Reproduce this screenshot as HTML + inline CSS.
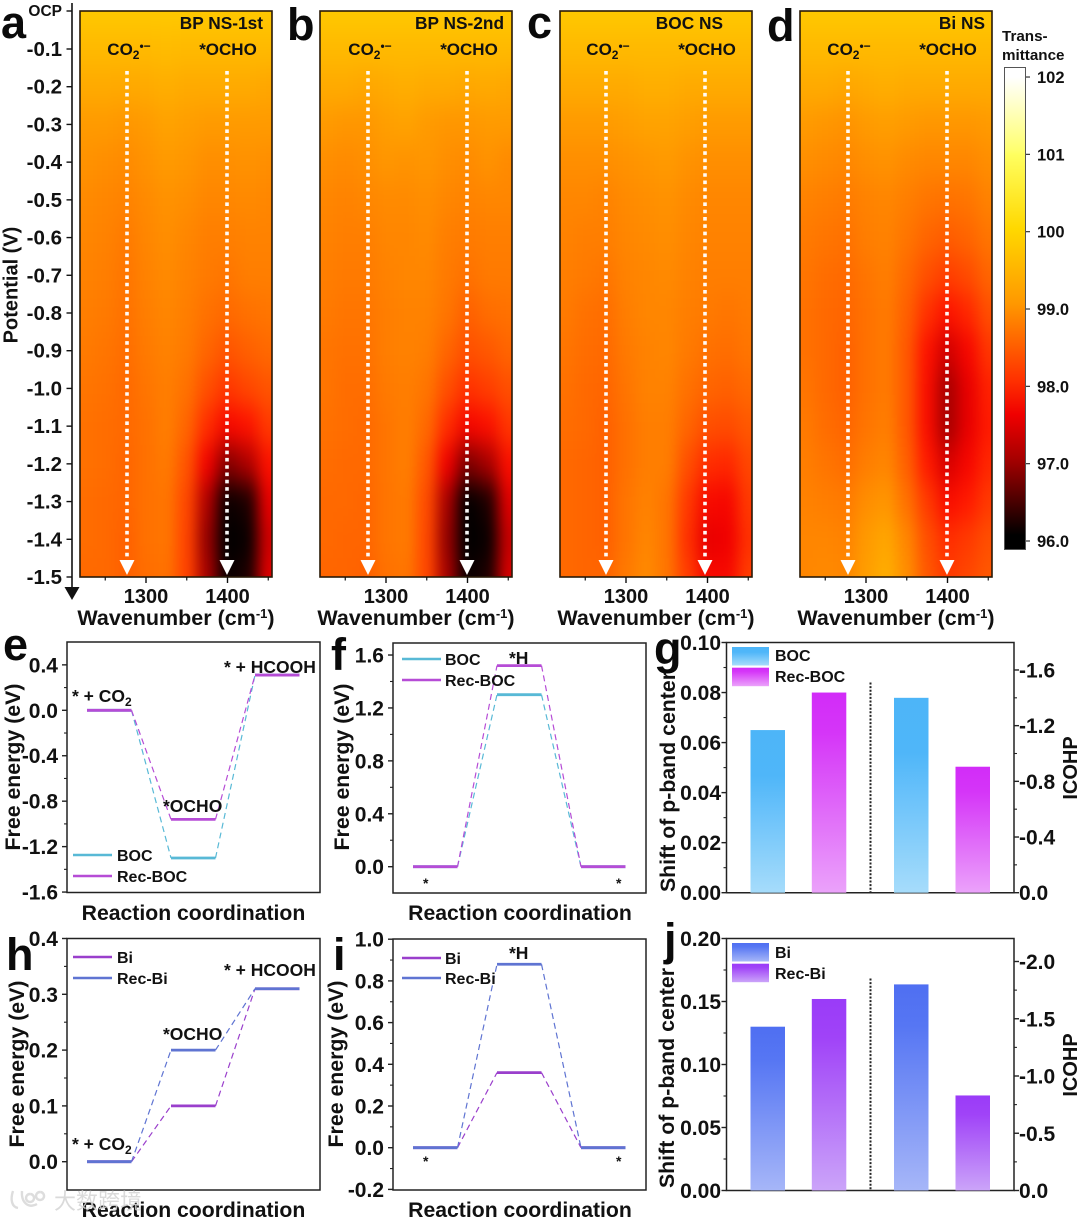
<!DOCTYPE html>
<html lang="en">
<head>
<meta charset="utf-8">
<title>Transmittance heatmaps and free energy charts</title>
<style>
html,body{margin:0;padding:0;background:#fff;width:1080px;height:1220px;overflow:hidden}
svg{display:block;font-family:"Liberation Sans","Noto Sans CJK SC",sans-serif;font-weight:bold;fill:#111}
.let{font-size:45px;fill:#0a0a0a}
.t17{font-size:17px}.t15{font-size:17.3px}.t20{font-size:21.2px}.t19{font-size:21.3px}.t14{font-size:16px}
.mid{text-anchor:middle}.end{text-anchor:end}
</style>
</head>
<body>
<svg id="fig" xmlns="http://www.w3.org/2000/svg" width="1080" height="1220" viewBox="0 0 1080 1220">
<defs>
<filter id="heat-blur" x="-10%" y="-10%" width="120%" height="120%" color-interpolation-filters="sRGB"><feGaussianBlur stdDeviation="7 13"/></filter>
<clipPath id="clip-a"><rect x="80" y="11" width="192" height="566"/></clipPath>
<clipPath id="clip-b"><rect x="320" y="11" width="192" height="566"/></clipPath>
<clipPath id="clip-c"><rect x="560" y="11" width="192" height="566"/></clipPath>
<clipPath id="clip-d"><rect x="800" y="11" width="192" height="566"/></clipPath>
<linearGradient id="bar-boc" x1="0" y1="0" x2="0" y2="1"><stop offset="0" stop-color="#4db5f8"/><stop offset=".28" stop-color="#4fb6f9"/><stop offset="1" stop-color="#a6dcfb"/></linearGradient>
<linearGradient id="bar-rec-boc" x1="0" y1="0" x2="0" y2="1"><stop offset="0" stop-color="#d22cf8"/><stop offset=".2" stop-color="#d535f8"/><stop offset="1" stop-color="#eba2fa"/></linearGradient>
<linearGradient id="bar-bi" x1="0" y1="0" x2="0" y2="1"><stop offset="0" stop-color="#4f6ff2"/><stop offset=".2" stop-color="#5676f3"/><stop offset="1" stop-color="#a6b6f8"/></linearGradient>
<linearGradient id="bar-rec-bi" x1="0" y1="0" x2="0" y2="1"><stop offset="0" stop-color="#9a3bf8"/><stop offset=".2" stop-color="#a043f8"/><stop offset="1" stop-color="#cba4f9"/></linearGradient>
<linearGradient id="colorbar-gradient" x1="0" y1="0" x2="0" y2="1">
<stop offset="0" stop-color="#ffffff"/><stop offset=".02" stop-color="#ffffff"/><stop offset=".17" stop-color="#ffff70"/><stop offset=".18" stop-color="#ffff60"/><stop offset=".335" stop-color="#ffd800"/><stop offset=".49" stop-color="#ff9800"/><stop offset=".65" stop-color="#ff3000"/><stop offset=".72" stop-color="#f00000"/><stop offset=".81" stop-color="#a80000"/><stop offset=".9" stop-color="#4a0000"/><stop offset=".97" stop-color="#000000"/><stop offset="1" stop-color="#000000"/>
</linearGradient>
</defs>

<g id="heatmaps"></g>

<!-- top row static labels -->
<text class="let" x="1" y="38">a</text>
<text class="let" x="287" y="40">b</text>
<text class="let" x="527" y="38">c</text>
<text class="let" x="767" y="41">d</text>
<text class="t15 end" x="263" y="29">BP NS-1st</text>
<text class="t15 end" x="504" y="29">BP NS-2nd</text>
<text class="t15 end" x="723" y="29">BOC NS</text>
<text class="t15 end" x="985" y="29">Bi NS</text>

<text class="t17 mid" x="129" y="55">CO<tspan font-size="12" dy="4">2</tspan><tspan font-size="12" dy="-9">•−</tspan></text>
<text class="t17 mid" x="228" y="55">*OCHO</text>
<text class="t17 mid" x="370" y="55">CO<tspan font-size="12" dy="4">2</tspan><tspan font-size="12" dy="-9">•−</tspan></text>
<text class="t17 mid" x="469" y="55">*OCHO</text>
<text class="t17 mid" x="608" y="55">CO<tspan font-size="12" dy="4">2</tspan><tspan font-size="12" dy="-9">•−</tspan></text>
<text class="t17 mid" x="707" y="55">*OCHO</text>
<text class="t17 mid" x="849" y="55">CO<tspan font-size="12" dy="4">2</tspan><tspan font-size="12" dy="-9">•−</tspan></text>
<text class="t17 mid" x="948" y="55">*OCHO</text>

<text class="mid" transform="translate(17.5,285) rotate(-90)" style="font-size:20px">Potential (V)</text>
<text class="mid" style="font-size:21.5px" x="176" y="625">Wavenumber (cm<tspan font-size="13" dy="-7">-1</tspan><tspan dy="7">)</tspan></text>
<text class="mid" style="font-size:21.5px" x="416" y="625">Wavenumber (cm<tspan font-size="13" dy="-7">-1</tspan><tspan dy="7">)</tspan></text>
<text class="mid" style="font-size:21.5px" x="656" y="625">Wavenumber (cm<tspan font-size="13" dy="-7">-1</tspan><tspan dy="7">)</tspan></text>
<text class="mid" style="font-size:21.5px" x="896" y="625">Wavenumber (cm<tspan font-size="13" dy="-7">-1</tspan><tspan dy="7">)</tspan></text>

<text x="1002" y="41" style="font-size:15.2px">Trans-</text>
<text x="1002" y="60" style="font-size:15.2px">mittance</text>
<rect x="1004.5" y="67.5" width="21" height="482" fill="url(#colorbar-gradient)" stroke="#555" stroke-width="1"/>
<g id="colorbar-ticks"></g>

<g id="energy-charts"></g>
<g id="bar-charts"></g>

<!-- panels e–j static labels -->
<text class="let" x="3" y="660">e</text>
<text class="let" x="331" y="670">f</text>
<text class="let" x="654" y="664">g</text>
<text class="let" x="6" y="970">h</text>
<text class="let" x="333" y="970">i</text>
<text class="let" x="664" y="955">j</text>

<g class="t14">
<text x="117" y="861">BOC</text>
<text x="117" y="882">Rec-BOC</text>
<text x="445" y="665">BOC</text>
<text x="445" y="686">Rec-BOC</text>
<text x="775" y="661">BOC</text>
<text x="775" y="682">Rec-BOC</text>
<text x="117" y="963">Bi</text>
<text x="117" y="984">Rec-Bi</text>
<text x="445" y="964">Bi</text>
<text x="445" y="984">Rec-Bi</text>
<text x="775" y="958">Bi</text>
<text x="775" y="979">Rec-Bi</text>
</g>
<g style="font-size:17.5px">
<text x="72" y="702">* + CO<tspan font-size="12" dy="4">2</tspan></text>
<text x="163" y="812">*OCHO</text>
<text x="224" y="673">* + HCOOH</text>
<text x="509" y="664">*H</text>
<text x="423" y="888" style="font-size:14px">*</text>
<text x="616" y="888" style="font-size:14px">*</text>
<text x="72" y="1150">* + CO<tspan font-size="12" dy="4">2</tspan></text>
<text x="163" y="1040">*OCHO</text>
<text x="224" y="976">* + HCOOH</text>
<text x="509" y="959">*H</text>
<text x="423" y="1166" style="font-size:14px">*</text>
<text x="616" y="1166" style="font-size:14px">*</text>
</g>

<g class="t19">
<text class="mid" transform="translate(20,767) rotate(-90)">Free energy (eV)</text>
<text class="mid" transform="translate(349,767) rotate(-90)">Free energy (eV)</text>
<text class="mid" transform="translate(675,782) rotate(-90)">Shift of p-band center</text>
<text class="mid" style="font-size:20px" transform="translate(1077,768) rotate(-90)">ICOHP</text>
<text class="mid" transform="translate(24,1064) rotate(-90)">Free energy (eV)</text>
<text class="mid" transform="translate(343,1064) rotate(-90)">Free energy (eV)</text>
<text class="mid" transform="translate(674,1078) rotate(-90)">Shift of p-band center</text>
<text class="mid" style="font-size:20px" transform="translate(1077,1065) rotate(-90)">ICOHP</text>
</g>
<g class="t20">
<text class="mid" x="193.5" y="920">Reaction coordination</text>
<text class="mid" x="520" y="920">Reaction coordination</text>
<text class="mid" x="193.5" y="1217">Reaction coordination</text>
<text class="mid" x="520" y="1217">Reaction coordination</text>
</g>

<g opacity=".85">
<path d="M13 1191c-3 9-1 16 5 17M22 1191c-1 11 6 18 15 13M30 1194a4 4 0 1 0 .1 0M40 1192a4 4 0 1 0 .1 0" fill="none" stroke="#d8d8d8" stroke-width="2.4"/>
<text x="54" y="1209" style="font-size:22px;font-weight:normal;fill:#d4d4d4">大数跨境</text>
</g>
</svg>

<script>
// ===== Transmittance heatmap data =====
const wavenumbers = [1225,1250,1275,1300,1325,1350,1375,1400,1425,1450];
const potentials = [0,-0.1,-0.2,-0.3,-0.4,-0.5,-0.6,-0.7,-0.8,-0.9,-1.0,-1.1,-1.2,-1.3,-1.4,-1.5];
const potentialTickLabels = ['OCP','-0.1','-0.2','-0.3','-0.4','-0.5','-0.6','-0.7','-0.8','-0.9','-1.0','-1.1','-1.2','-1.3','-1.4','-1.5'];
const wavenumberMajorTicks = [1300,1400];
const wavenumberMinorTicks = [1250,1350,1450];
const colorbarTicks = [96,97,98,99,100,101,102];
const colorbarTickLabels = ['96.0','97.0','98.0','99.0','100','101','102'];
const transmittanceA = [
[99.9,99.9,99.9,99.9,99.9,99.9,99.9,99.9,99.9,99.9],
[99.7,99.7,99.7,99.7,99.72,99.7,99.7,99.7,99.7,99.7],
[99.5,99.5,99.48,99.5,99.55,99.5,99.5,99.5,99.5,99.45],
[99.3,99.3,99.25,99.3,99.4,99.35,99.3,99.3,99.3,99.3],
[99.2,99.15,99.1,99.2,99.3,99.25,99.15,99.15,99.2,99.15],
[99.1,99.05,99.0,99.1,99.2,99.15,99.05,99.05,99.1,99.05],
[99.05,99.0,98.9,99.05,99.15,99.05,98.95,98.95,99.0,99.0],
[99.0,98.95,98.85,99.0,99.1,99.0,98.9,98.85,98.95,98.95],
[98.95,98.9,98.8,98.95,99.05,98.95,98.8,98.7,98.8,98.85],
[98.9,98.85,98.75,98.9,99.0,98.9,98.65,98.45,98.6,98.7],
[98.85,98.8,98.7,98.85,98.95,98.8,98.4,98.1,98.3,98.45],
[98.8,98.75,98.7,98.8,98.95,98.65,98.0,97.55,97.75,98.15],
[98.8,98.75,98.65,98.8,98.9,98.45,97.45,96.75,97.0,97.75],
[98.75,98.7,98.65,98.8,98.85,98.3,97.0,96.05,96.15,97.35],
[98.75,98.7,98.6,98.8,98.85,98.25,96.85,96.0,96.05,97.2],
[98.7,98.7,98.6,98.75,98.8,98.25,96.95,96.05,96.15,97.3]];
const transmittanceB = [
[99.9,99.9,99.9,99.9,99.9,99.9,99.9,99.9,99.9,99.9],
[99.7,99.7,99.7,99.7,99.7,99.7,99.7,99.7,99.7,99.7],
[99.5,99.5,99.45,99.5,99.55,99.5,99.5,99.45,99.5,99.45],
[99.3,99.25,99.25,99.35,99.4,99.3,99.25,99.25,99.3,99.3],
[99.15,99.1,99.15,99.25,99.2,99.25,99.15,99.1,99.2,99.1],
[99.05,99.0,99.05,99.1,99.1,99.15,99.05,99.0,99.05,99.05],
[99.0,98.95,98.95,99.05,99.05,99.1,98.95,98.9,98.95,98.95],
[98.95,98.9,98.9,99.0,99.05,99.05,98.9,98.8,98.9,98.9],
[98.9,98.85,98.85,98.95,99.0,99.0,98.85,98.6,98.75,98.8],
[98.85,98.8,98.8,98.95,99.0,98.95,98.65,98.4,98.5,98.65],
[98.85,98.75,98.75,98.9,98.95,98.85,98.4,98.05,98.2,98.4],
[98.8,98.75,98.7,98.85,98.95,98.7,98.0,97.5,97.7,98.1],
[98.75,98.7,98.7,98.85,98.95,98.5,97.4,96.7,96.95,97.7],
[98.7,98.7,98.65,98.85,98.9,98.35,96.95,96.0,96.15,97.3],
[98.7,98.65,98.65,98.85,98.9,98.3,96.85,96.0,96.05,97.15],
[98.65,98.65,98.6,98.8,98.85,98.3,96.95,96.05,96.15,97.25]];
const transmittanceC = [
[99.9,99.9,99.9,99.9,99.9,99.9,99.9,99.9,99.9,99.9],
[99.7,99.7,99.7,99.7,99.7,99.7,99.7,99.7,99.7,99.7],
[99.5,99.5,99.5,99.5,99.55,99.55,99.5,99.5,99.5,99.5],
[99.3,99.3,99.3,99.35,99.4,99.4,99.35,99.3,99.3,99.3],
[99.15,99.15,99.15,99.2,99.25,99.3,99.2,99.15,99.15,99.15],
[99.05,99.05,99.0,99.1,99.15,99.2,99.1,99.05,99.05,99.05],
[99.0,98.95,98.95,99.05,99.1,99.15,99.05,99.0,99.0,99.0],
[98.95,98.9,98.85,99.0,99.05,99.1,99.0,98.95,98.95,98.95],
[98.9,98.8,98.75,98.95,99.05,99.05,98.95,98.9,98.85,98.9],
[98.85,98.75,98.7,98.9,99.0,99.05,98.9,98.8,98.75,98.85],
[98.8,98.7,98.65,98.85,99.0,99.0,98.8,98.65,98.6,98.7],
[98.75,98.7,98.6,98.8,98.95,98.95,98.65,98.4,98.35,98.5],
[98.7,98.65,98.6,98.8,98.95,98.95,98.4,98.0,97.95,98.3],
[98.7,98.65,98.6,98.85,99.0,98.85,98.15,97.6,97.55,98.15],
[98.7,98.65,98.6,98.85,99.05,98.85,98.05,97.35,97.4,98.05],
[98.7,98.65,98.65,98.9,99.1,98.85,98.2,97.6,97.6,98.2]];
const transmittanceD = [
[99.9,99.9,99.9,99.9,99.9,99.9,99.9,99.9,99.9,99.9],
[99.7,99.7,99.7,99.7,99.7,99.7,99.7,99.7,99.7,99.7],
[99.5,99.5,99.45,99.5,99.55,99.5,99.5,99.5,99.5,99.5],
[99.3,99.25,99.2,99.3,99.35,99.3,99.25,99.25,99.25,99.3],
[99.15,99.1,99.05,99.15,99.2,99.1,99.05,99.05,99.05,99.15],
[99.0,98.95,98.9,99.0,99.05,98.95,98.85,98.8,98.85,99.0],
[98.9,98.85,98.8,98.95,99.0,98.85,98.65,98.55,98.65,98.85],
[98.85,98.75,98.7,98.85,98.95,98.7,98.4,98.2,98.35,98.65],
[98.8,98.7,98.65,98.8,98.9,98.6,98.05,97.75,97.95,98.4],
[98.8,98.7,98.6,98.8,98.9,98.5,97.75,97.2,97.55,98.1],
[98.85,98.7,98.6,98.8,98.9,98.5,97.65,96.95,97.35,97.9],
[98.9,98.75,98.65,98.85,98.95,98.5,97.65,96.95,97.35,97.85],
[98.95,98.85,98.75,98.95,99.05,98.6,97.85,97.25,97.55,97.95],
[99.0,98.95,98.9,99.15,99.25,98.8,98.15,97.65,97.85,98.15],
[99.05,99.05,99.0,99.3,99.45,99.05,98.4,98.0,98.15,98.4],
[99.05,99.1,99.05,99.35,99.55,99.15,98.5,98.15,98.3,98.5]];

// ===== Free energy data =====
const energyE_BOC = [0,-1.30,0.31];
const energyE_RecBOC = [0,-0.96,0.31];
const energyF_BOC = [0,1.30,0];
const energyF_RecBOC = [0,1.52,0];
const energyH_Bi = [0,0.10,0.31];
const energyH_RecBi = [0,0.20,0.31];
const energyI_Bi = [0,0.36,0];
const energyI_RecBi = [0,0.88,0];
const ticksE = [-1.6,-1.2,-0.8,-0.4,0,0.4];
const ticksF = [0,0.4,0.8,1.2,1.6];
const ticksH = [0,0.1,0.2,0.3,0.4];
const ticksI = [-0.2,0,0.2,0.4,0.6,0.8,1.0];

// ===== Bar data =====
const pBandG = [0.065,0.080];
const icohpG = [-1.40,-0.905];
const pBandJ = [0.130,0.152];
const icohpJ = [-1.80,-0.83];
const leftTicksG = [0,0.02,0.04,0.06,0.08,0.10];
const rightTicksG = [0,-0.4,-0.8,-1.2,-1.6];
const leftTicksJ = [0,0.05,0.10,0.15,0.20];
const rightTicksJ = [0,-0.5,-1.0,-1.5,-2.0];

const NS='http://www.w3.org/2000/svg';
function mk(tag,parent,attrs,txt){
  const e=document.createElementNS(NS,tag);
  for(const k in attrs)e.setAttribute(k,attrs[k]);
  if(txt!==undefined)e.textContent=txt;
  parent.appendChild(e);
  return e;
}
function tagLine(e,n){
  
  
  return e;
}
const cmapValues=[96,96.1,96.5,97,97.4,97.8,98,98.5,99,99.5,100,100.5,101,101.5,102];
const cmapColors=[[0,0,0],[20,0,0],[90,0,0],[175,0,0],[240,0,0],[255,20,0],[255,45,0],[255,88,0],[255,130,0],[255,170,0],[255,208,0],[255,240,30],[255,255,110],[255,255,190],[255,255,255]];
function tColor(v){
  let i=0;
  while(i<cmapValues.length-2&&v>cmapValues[i+1])i++;
  const f=Math.max(0,Math.min(1,(v-cmapValues[i])/(cmapValues[i+1]-cmapValues[i])));
  const c=cmapColors[i].map((a,j)=>Math.round(a+(cmapColors[i+1][j]-a)*f));
  return 'rgb('+c.join(',')+')';
}
const yPot=v=>49+(-v-0.1)*377.14;
function potentialY(i){return i===0?11:yPot(potentials[i]);}

// --- heatmaps ---
const hmRoot=document.getElementById('heatmaps');
const heatPanels=[
 {id:'a',left:80,data:transmittanceA,co2:127,ocho:227},
 {id:'b',left:320,data:transmittanceB,co2:128,ocho:227},
 {id:'c',left:560,data:transmittanceC,co2:126,ocho:225},
 {id:'d',left:800,data:transmittanceD,co2:128,ocho:227}
];
heatPanels.forEach(p=>{
  const xW=w=>p.left+66+(w-1300)*0.815;
  const g=mk('g',hmRoot,{});
  tagLine(g,'heatmap-'+p.id);
  const clip=mk('g',g,{'clip-path':'url(#clip-'+p.id+')'});
  tagLine(clip,'heatmap-plot-'+p.id);
  const blur=mk('g',clip,{filter:'url(#heat-blur)'});
  tagLine(blur,'heatmap-cells-'+p.id);
  p.data.forEach((row,ri)=>{
    const yc=potentialY(ri);
    const top=ri===0?yc-40:(yc+potentialY(ri-1))/2;
    const bot=ri===p.data.length-1?yc+40:(yc+potentialY(ri+1))/2;
    row.forEach((v,ci)=>{
      const xc=xW(wavenumbers[ci]);
      const x0=ci===0?xc-40:xc-10.2;
      const x1=ci===row.length-1?xc+40:xc+10.2;
      const r=mk('rect',blur,{x:x0,y:top,width:x1-x0+0.5,height:bot-top+0.5,fill:tColor(v)});
      
      
    });
  });
  const frame=mk('rect',g,{x:p.left,y:11,width:192,height:566,fill:'none',stroke:'#2a1a08','stroke-width':1.6});
  tagLine(frame,'heatmap-frame-'+p.id);
  wavenumberMajorTicks.forEach(w=>{
    const t=mk('line',g,{x1:xW(w),x2:xW(w),y1:577,y2:583,stroke:'#111','stroke-width':1.4});
    tagLine(t,'x-tick');
    const l=mk('text',g,{x:xW(w),y:603,'text-anchor':'middle',style:'font-size:20px'},String(w));
    tagLine(l,'x-tick-label');
  });
  wavenumberMinorTicks.forEach(w=>{
    const t=mk('line',g,{x1:xW(w),x2:xW(w),y1:577,y2:580.5,stroke:'#111','stroke-width':1.2});
    tagLine(t,'x-minor-tick');
  });
  [p.co2,p.ocho].forEach((ax,ai)=>{
    const x=p.left+(ax-80);
    const d=mk('line',g,{x1:x,x2:x,y1:71,y2:562,stroke:'#fff','stroke-width':3.6,'stroke-dasharray':'3.6 3.7',opacity:.97});
    tagLine(d,ai?'ocho-dotted-arrow-'+p.id:'co2-dotted-arrow-'+p.id);
    const h=mk('polygon',g,{points:(x-7.5)+',560 '+(x+7.5)+',560 '+x+',575',fill:'#fff'});
    tagLine(h,ai?'ocho-arrowhead-'+p.id:'co2-arrowhead-'+p.id);
  });
});
// Left potential axis
const ax=mk('line',hmRoot,{x1:72,x2:72,y1:3,y2:590,stroke:'#111','stroke-width':1.6});
tagLine(ax,'potential-axis');
const axHead=mk('polygon',hmRoot,{points:'64.5,587 79.5,587 72,600',fill:'#111'});
tagLine(axHead,'potential-axis-arrow');
potentials.forEach((v,i)=>{
  const y=potentialY(i);
  const t=mk('line',hmRoot,{x1:66.5,x2:72,y1:y,y2:y,stroke:'#111','stroke-width':1.4});
  tagLine(t,'potential-tick');
  const l=mk('text',hmRoot,{x:62,y:i===0?y+5:y+7,'text-anchor':'end',style:i===0?'font-size:15.5px':'font-size:20.5px'},potentialTickLabels[i]);
  tagLine(l,'potential-tick-label');
});
// Colorbar ticks
const cbRoot=document.getElementById('colorbar-ticks');
const cbY=v=>541-(v-96)*77.33;
colorbarTicks.forEach((v,i)=>{
  const t=mk('line',cbRoot,{x1:1026,x2:1030,y1:cbY(v),y2:cbY(v),stroke:'#333','stroke-width':1.2});
  tagLine(t,'colorbar-tick');
  const l=mk('text',cbRoot,{x:1037,y:cbY(v)+6,style:'font-size:16.5px'},colorbarTickLabels[i]);
  tagLine(l,'colorbar-tick-label');
});

// --- energy charts ---
const eRoot=document.getElementById('energy-charts');
const colBOC='#58b9d6',colRecBOC='#b64cd6',colBi='#9a3fcc',colRecBi='#5f74d2';
const energyPanels=[
 {id:'e',l:67,r:320,t:642,b:892.5,y0:710.3,k:113.6,ticks:ticksE,s:[[energyE_BOC,colBOC],[energyE_RecBOC,colRecBOC]],leg:[[855,colBOC],[876,colRecBOC]]},
 {id:'f',l:393,r:646,t:643,b:893,y0:866.7,k:132.3,ticks:ticksF,s:[[energyF_BOC,colBOC],[energyF_RecBOC,colRecBOC]],leg:[[659,colBOC],[680,colRecBOC]]},
 {id:'h',l:67,r:320,t:938.5,b:1190,y0:1161.7,k:558,ticks:ticksH,s:[[energyH_Bi,colBi],[energyH_RecBi,colRecBi]],leg:[[957,colBi],[978,colRecBi]]},
 {id:'i',l:393,r:646,t:939,b:1190,y0:1147.7,k:208.5,ticks:ticksI,s:[[energyI_Bi,colBi],[energyI_RecBi,colRecBi]],leg:[[958,colBi],[978,colRecBi]]}
];
energyPanels.forEach(p=>{
  const g=mk('g',eRoot,{});
  tagLine(g,'energy-chart-'+p.id);
  const yS=v=>p.y0-v*p.k;
  const fr=mk('rect',g,{x:p.l,y:p.t,width:p.r-p.l,height:p.b-p.t,fill:'#fff',stroke:'#222','stroke-width':1.5});
  tagLine(fr,'plot-frame-'+p.id);
  const mn=p.ticks[0],mx=p.ticks[p.ticks.length-1],step=(mx-mn)/(p.ticks.length-1);
  p.ticks.forEach((v,i)=>{
    const t=mk('line',g,{x1:p.l-5,x2:p.l,y1:yS(v),y2:yS(v),stroke:'#222','stroke-width':1.4});
    tagLine(t,'y-tick');
    const lb=mk('text',g,{x:p.l-9,y:yS(v)+7.5,'text-anchor':'end',style:'font-size:21px'},v.toFixed(1));
    tagLine(lb,'y-tick-label');
    if(i<p.ticks.length-1){
      const m=mk('line',g,{x1:p.l-3,x2:p.l,y1:yS(v+step/2),y2:yS(v+step/2),stroke:'#222','stroke-width':1.1});
      tagLine(m,'y-minor-tick');
    }
  });
  const levelX=i=>p.l+20+i*84;
  const W=44.5;
  p.s.forEach(([vals,col],si)=>{
    vals.forEach((v,i)=>{
      if(i<vals.length-1){
        const c=mk('line',g,{x1:levelX(i)+W,x2:levelX(i+1),y1:yS(v),y2:yS(vals[i+1]),stroke:col,'stroke-width':1.2,'stroke-dasharray':'6 4'});
        tagLine(c,'connector-'+p.id+'-'+si);
      }
    });
  });
  p.s.forEach(([vals,col],si)=>{
    vals.forEach((v,i)=>{
      const lv=mk('line',g,{x1:levelX(i),x2:levelX(i)+W,y1:yS(v),y2:yS(v),stroke:col,'stroke-width':2.8});
      tagLine(lv,'energy-level-'+p.id+'-'+si);
    });
  });
  p.leg.forEach(([ly,col],i)=>{
    const lx=p.l+(p.id==='e'||p.id==='h'?6:9);
    const ll=mk('line',g,{x1:lx,x2:lx+39,y1:ly,y2:ly,stroke:col,'stroke-width':2.6});
    tagLine(ll,'legend-line-'+p.id+'-'+i);
  });
});

// --- bar charts ---
const bRoot=document.getElementById('bar-charts');
const barPanels=[
 {id:'g',t:642.5,b:892.7,lmax:0.10,rk:139.2,lt:leftTicksG,rt:rightTicksG,vals:pBandG,ic:icohpG,g1:'bar-boc',g2:'bar-rec-boc',minL:0.01,minR:0.2},
 {id:'j',t:938.5,b:1190.5,lmax:0.20,rk:114.5,lt:leftTicksJ,rt:rightTicksJ,vals:pBandJ,ic:icohpJ,g1:'bar-bi',g2:'bar-rec-bi',minL:0.025,minR:0.25}
];
barPanels.forEach(p=>{
  const g=mk('g',bRoot,{});
  tagLine(g,'bar-chart-'+p.id);
  const L=726.5,R=1014;
  const yL=v=>p.b-(v/p.lmax)*(p.b-p.t);
  const yR=v=>p.b-(-v)*p.rk;
  const frameTop=mk('path',g,{d:'M'+L+' '+p.b+'V'+p.t+'H'+R+'V'+p.b+'Z',fill:'#fff',stroke:'#222','stroke-width':1.5});
  tagLine(frameTop,'plot-frame-'+p.id);
  p.lt.forEach((v,i)=>{
    const y=yL(v);
    const t=mk('line',g,{x1:L-5,x2:L,y1:y,y2:y,stroke:'#222','stroke-width':1.4});
    tagLine(t,'left-tick');
    const l=mk('text',g,{x:L-5.5,y:y+7.5,'text-anchor':'end',style:'font-size:21px'},v.toFixed(2));
    tagLine(l,'left-tick-label');
    if(i<p.lt.length-1){
      const m=mk('line',g,{x1:L-3,x2:L,y1:yL(v+p.minL),y2:yL(v+p.minL),stroke:'#222','stroke-width':1.1});
      tagLine(m,'left-minor-tick');
    }
  });
  p.rt.forEach((v,i)=>{
    const y=yR(v);
    const t=mk('line',g,{x1:R,x2:R+5,y1:y,y2:y,stroke:'#222','stroke-width':1.4});
    tagLine(t,'right-tick');
    const l=mk('text',g,{x:R+5,y:y+7.5,style:'font-size:21px'},v===0?'0.0':v.toFixed(1));
    tagLine(l,'right-tick-label');
    if(i<p.rt.length-1){
      const m=mk('line',g,{x1:R,x2:R+3,y1:yR(v-p.minR),y2:yR(v-p.minR),stroke:'#222','stroke-width':1.1});
      tagLine(m,'right-minor-tick');
    }
  });
  const barW=34.5;
  const x0=750.5, x1=811.8, x2=894, x3=955.5;
  p.vals.forEach((v,i)=>{
    const y=yL(v);
    const b=mk('rect',g,{x:i?x1:x0,y:y,width:barW,height:p.b-y,fill:'url(#'+(i?p.g2:p.g1)+')'});
    tagLine(b,'p-band-bar-'+p.id+'-'+i);
  });
  p.ic.forEach((v,i)=>{
    const y=yR(v);
    const b=mk('rect',g,{x:i?x3:x2,y:y,width:barW,height:p.b-y,fill:'url(#'+(i?p.g2:p.g1)+')'});
    tagLine(b,'icohp-bar-'+p.id+'-'+i);
  });
  const dv=mk('line',g,{x1:870.5,x2:870.5,y1:p.t+40,y2:p.b,stroke:'#222','stroke-width':2,'stroke-dasharray':'2 1.6'});
  tagLine(dv,'divider-'+p.id);
  [0,1].forEach(i=>{
    const s=mk('rect',g,{x:732,y:p.t+4.5+i*20.7,width:37,height:18.5,fill:'url(#'+(i?p.g2:p.g1)+')'});
    tagLine(s,'legend-swatch-'+p.id+'-'+i);
  });
});
// keep script-drawn charts beneath the static labels
const figSvg=document.getElementById('fig');
const defsEl=figSvg.querySelector('defs');
[bRoot,eRoot,hmRoot].forEach(n=>figSvg.insertBefore(n,defsEl.nextSibling));
</script>
</body>
</html>
